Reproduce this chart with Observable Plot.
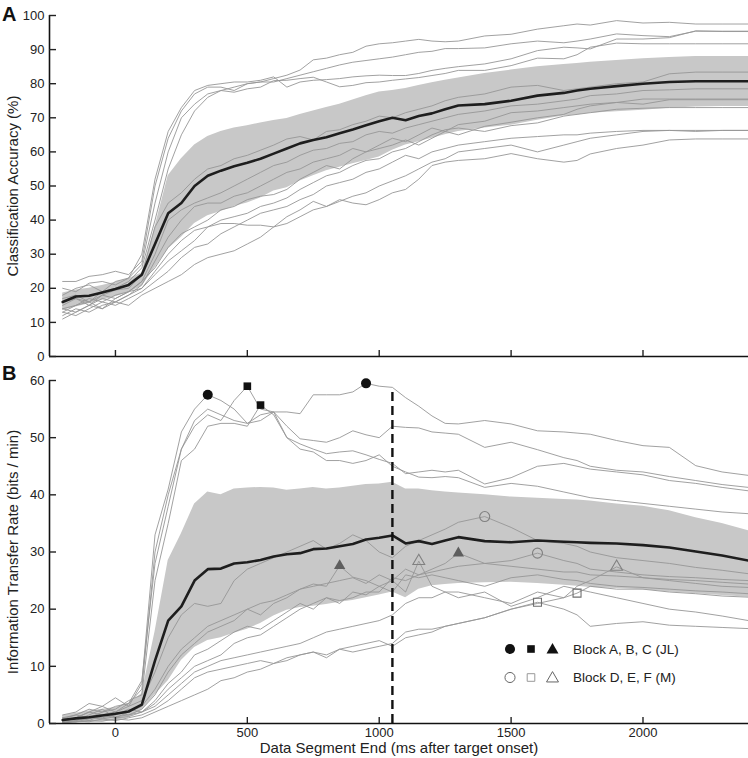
<!DOCTYPE html>
<html><head><meta charset="utf-8">
<script src="https://cdn.jsdelivr.net/npm/d3@7"></script>
<script src="https://cdn.jsdelivr.net/npm/@observablehq/plot@0.6"></script>
<style>
body{margin:0;background:#fff;font-family:"Liberation Sans",Arial,sans-serif;}
#wrap{position:relative;width:748px;height:758px;overflow:hidden;background:#fff;}
#wrap > svg, #wrap > figure{position:absolute;left:0;margin:0;}
.letter{position:absolute;left:2px;font-weight:bold;font-size:20px;line-height:20px;color:#111;}
</style></head><body><div id="wrap"></div>
<script>
// ---------- shared x grid (ms after target onset) ----------
const timesMs = [-200,-150,-100,-50,0,50,100,150,200,250,300,350,400,450,500,550,600,650,700,750,800,850,900,950,1000,1050,1100,1150,1200,1250,1300,1400,1500,1600,1700,1750,1800,1900,2000,2100,2200,2300,2400];
const xDomain = [-250, 2400];
const timeTicks = [0, 500, 1000, 1500, 2000];
const accTicks = [0,10,20,30,40,50,60,70,80,90,100];
const itrTicks = [0,10,20,30,40,50,60];
const accTitle = "Classification Accuracy (%)";
const itrTitle = "Information Transfer Rate (bits / min)";
const timeTitle = "Data Segment End (ms after target onset)";

// ---------- Panel A: classification accuracy (%) ----------
const accMean = [16,17.6,17.8,18.8,19.8,21,24,33,42,45,50,53,54.5,55.8,56.8,58,59.5,61,62.5,63.5,64.3,65.5,66.6,67.8,69,70,69.3,70.5,71.3,72.5,73.6,74,75,76.5,77.3,78,78.5,79.3,80,80.5,80.7,80.7,80.7];
const accHigh = [18.6,19.5,20,20.8,21.8,22.8,24.5,38,53,58,62,64.5,66,67,67.7,68.5,69.2,69.8,71,72,73,74,75.2,76.5,77.6,78,78.6,79.5,80.3,81,81.7,83,84,85,85.6,85.9,86.3,86.8,87.3,87.7,88,88,88];
const accLow = [13.5,14.5,15.5,16.5,17.5,18.8,20.5,26,31.5,35,39,41.3,42.5,44,45,46.5,48.5,49.5,51.5,53,54.5,55.5,56.5,57.5,58.5,60.5,62,63,64,65,66,67,67.8,69.3,70.5,70.8,71.3,71.8,72.2,72.8,73.2,73.3,73.3];

const accT1 = [22,22,23.5,24,25,24,28,50,64,72,77,79,79,78,80,80.5,81.5,82.5,84,87,87.5,88.5,89.2,91,91.7,92,92.5,93,92.5,92.3,92.5,94,94.5,96,97,97.5,97.2,98.5,97.8,98,97.5,97.5,97.5];
const accT2 = [18,20,21,19,22,23,27,45,60,70,74,77,78,79,80,80.5,80.5,81.5,82.5,83.5,84.5,85.5,86.3,86.8,87.3,87.8,88.5,89.2,89.5,90.3,90.3,90.5,91.7,92.5,92,92.5,93.1,94.6,94.1,93.8,95.4,95.4,95.4];
const accT3 = [20,19,21.5,22,21,23,30,52,66,73,78,79.5,80,80.5,80.5,81,82,79,80.5,81,81.2,81.5,82,82.3,82.5,82.4,82.4,83,83.9,84.5,85,85.8,87.3,89.7,90.7,90.5,90.2,93.1,93.1,93.5,95.5,95.3,95.3];
const accT4 = [17,18,16,19,20,22,26,40,55,65,72,76,78,77.5,78.5,79,80.9,81,81.5,81.9,80.5,79.1,79.5,80.3,80.5,81,81.4,81.8,82.4,83,83.9,83.9,85.3,87.5,87.3,88.5,90.7,91.9,91.7,91.7,91.7,91.7,91.7];
const accM1 = [15,17,16,18,19.5,20,24,38,45,48,52,55,56,58,59,60.5,62,63.8,64.5,63.5,66,66.5,68,69,70.5,70,71.5,72.5,73.5,75,76,77,79,79.5,78,78.5,79,80,80.5,82.9,83.4,83.4,83.4];
const accM2 = [14,15,17,16,18,19,22,30,40,43,45,46.5,48,50,52,54,56,57,59,60.5,61,62.5,63,65,66,65.5,67,68,69,70,71,72,73.5,74,75,75.5,76.5,77,78,78.2,78.5,78.5,78.5];
const accM3 = [12,14,13,15,16,18,21,28,35,40,44,45,45,47,48,50,52,54,55,57,58,59,61,60,62,64,63,65,67,66,68,69,71.5,72,73,73.5,74,74.5,75.5,75.5,75.5,75.5,75.5];
const accM4 = [13,15,16,14,17,19,22,26,32,36,38,40,43,44,46,47,47.5,49,52,54,56,55,58,60,61,62,63.5,62,64,66,65,67.5,68.7,70,71,72.5,73.5,74.5,74,75.3,75.3,75.3,75.3];
const accM5 = [14,13,15,17,16,18,20,24,28,31,34,38,40,41,42,44,45,46.5,49,51,53,54,56,57.5,58,60,61,63,65,66.5,67,66,67.7,68.5,70.5,71,71.5,72.5,72.8,73,73,73,73];
const accL1 = [16,17,15,18,17,19,20,25,30,34,37,38,39,39,38.5,38.5,38,39,41,43,44,45.5,47,48,50,51.5,53,55,57,58,60,61,62,60,62,63,64,65,66,66.3,66.3,66.3,66.3];
const accL2 = [11,13,15,14,16,15,18,20,22,24,27,29,30,31,33,35,38,41,43,45.5,44,46,45,44.5,46,48,49,52,56,57,57.5,58,59.5,58,57,57.5,59.4,61,62,63.5,63.8,63.8,63.8];
const accL3 = [13,12,14,16,15,17,19,22,25,29,32,33,36,38,40,42,43,44,46,47.5,50,51,52,54,55,57,59,58,60,61,62,63,64,64.5,65,65,65.5,66,66.3,66.3,66,66.3,66.3];

// ---------- Panel B: information transfer rate (bits / min) ----------
const itrMean = [0.6,0.9,1.1,1.4,1.7,2.1,3.3,11,18,20.5,25,27,27.1,28,28.2,28.6,29.2,29.6,29.8,30.5,30.6,31,31.4,32.2,32.5,32.9,31.5,31.9,31.4,32,32.6,31.9,31.7,32,31.8,31.7,31.6,31.5,31.2,30.8,30.1,29.4,28.5];
const itrHigh = [1.4,1.8,2.2,2.5,2.8,3.5,5.2,16,28.5,33.2,38.4,40.5,40,41,41.2,41.3,41.2,40.8,41,41.3,41,41.2,41.5,41.8,41.9,42.2,41,41,40.7,40.5,40.3,40,39.6,39.4,39.2,39.1,38.9,38.4,38,37.2,36,35,33.7];
const itrLow = [0,0.1,0.2,0.3,0.5,1,2.3,5,7.5,11,13.3,14.5,15,15.8,16.5,17.5,18.8,19.8,20.3,20.5,20.8,21.2,21.5,22,22.5,23,22,23.5,24.1,24.3,24.5,24.6,24.7,24.5,24.2,24,23.8,23.6,23.4,23,22.7,22.4,22.1];

const itrB1 = [1.5,2,3.5,3,4.5,3,7,33,41,51,55,57.5,56.5,55,52.5,54,54.5,50,48.9,48,47.2,47.5,47.7,47,46.2,45.5,43.7,44,44.3,44,44.3,41.9,43,45,45.5,45,44.5,44,43.5,42.5,42,41.3,40.7];
const itrB2 = [0.5,1,2,3,2,3.5,6,30,40,48,52,54,53,56.5,59,55,54.5,52,49.8,49.5,49.2,50,51.2,50.5,50,52,51.8,51.7,51,50.8,50.6,48.3,49.2,47.9,46.5,46,45,44.3,44,43.2,42.5,41.8,41.3];
const itrB3 = [1,1.5,1,2,2.5,4,5,25,35,46,48,52,52.5,52.5,52,55.7,54,50,48,47.5,46,46,45.5,46,47,45,44,43.1,43,43.2,43,41.3,42,41.5,40.5,40,39.5,39,38.5,38,37.5,37,36.7];
const itrB4 = [0.8,1.5,2.5,2,3,3.5,7.5,28,38,48,53,55,54,53,52.5,53,54.5,54.5,54.2,57.5,57.5,57.5,58,59.5,59,58.8,57,55.5,53.8,52.5,52.4,53,52.4,51.2,51,50.8,50.6,49.5,48.6,48.3,45.1,44,43.4];
const itrOc1 = [0.5,1,2,1.5,2,3,4,9,15,19,21,20.5,21,25,27,28,29,30,31,32,30.5,31.5,33,32,30,29,31,32,33,34,35.2,36.2,34.3,32,31.5,31,30,29,28.5,28,27.3,26.8,26.2];
const itrOc2 = [1,0.5,1.5,2.5,1,2,3,6,10,13,15,17,18,19,20,21,21.5,22.5,23.5,24,24.5,25,25.5,24.5,26,25,27,26,26.5,27,27.5,28,28.5,29.8,28.5,28,27,26.5,26,25.7,25.5,25.2,25];
const itrFt1 = [0.3,1,0.5,1.5,2,1.5,2.5,5,9,12,14,16,17,18,20,19,21,22,23.5,24.4,24,27.6,25.6,25,24,23,26,25.5,26,25.5,25,24,25.5,26,25.2,25,24.5,24,23.8,23.5,23.2,23,22.7];
const itrFt2 = [0.5,0.8,1.2,1,1.5,2.5,2,4,7,9,12,13,14.5,16,17,16.5,18,19.5,21,20,22,21.5,22,23,23,25.5,25,26,27,28,29.8,28,27.5,27,26.5,26.5,26,25.8,25.5,25.2,25,24.7,24.4];
const itrOt1 = [0.2,0.5,1,0.8,1.2,1.5,2,3.5,6,8,10,11,12,14,15,15.5,17,18.5,20,21,22,21,23,22.5,24,25,23,28.4,24,23,22,23,20.5,22,24,23.5,23,22,21,20,19.5,18.8,18];
const itrOt2 = [0.5,0.3,0.8,1.5,1,1.2,2,3,5,7,9,10,11,11.5,12,12.5,13,13.5,14,15,16,16.5,17,17.5,18,19,21,22,22,23,23,22,21,23,22,24,25,27.4,25.5,25,24.5,24,23.8];
const itrOs1 = [0.2,0.4,0.3,0.8,0.5,1,1.5,2.5,4,6,8,9,9.5,10,10.5,11,10.5,11.5,12,12.5,12,13,12.5,13,13.5,14,16,16.5,16.5,17,17.5,18.5,20,21.2,20,19,17,17.5,17.8,17.2,17,16.8,16.6];
const itrOs2 = [0.1,0.3,0.5,0.4,0.8,0.6,1,2,3,4,5,6,7.5,8,9,9.5,10.5,11,12,12.5,11.5,13,13.5,14,14.5,13.5,15,15.5,16,17,17.5,18.5,20,21,22,22.8,24,23.5,23.5,23,22.7,22.3,22.1];

// peak-ITR markers: block, time (ms), value
const peakBlock = ["A","A","B","B","C","C","D","D","E","E","F","F"];
const peakTime  = [350, 950, 500, 550, 850, 1300, 1400, 1600, 1600, 1750, 1150, 1900];
const peakItr   = [57.5, 59.5, 59, 55.7, 27.6, 29.8, 36.2, 29.8, 21.2, 22.8, 28.4, 27.4];

const windowEndMs = [1050];
const windowTopItr = 58.6;

const legendLabels = ["Block A, B, C (JL)", "Block D, E, F (M)"];

// ---------- build tables ----------
function longRows(lines) {
  const rows = [];
  lines.forEach((arr, k) => arr.forEach((v, i) => rows.push({t: timesMs[i], v, id: k})));
  return rows;
}
const accRows = longRows([accT1,accT2,accT3,accT4,accM1,accM2,accM3,accM4,accM5,accL1,accL2,accL3]);
const itrRows = longRows([itrB1,itrB2,itrB3,itrB4,itrOc1,itrOc2,itrFt1,itrFt2,itrOt1,itrOt2,itrOs1,itrOs2]);
const accSummary = timesMs.map((t,i) => ({t, m: accMean[i], lo: accLow[i], hi: accHigh[i]}));
const itrSummary = timesMs.map((t,i) => ({t, m: itrMean[i], lo: itrLow[i], hi: itrHigh[i]}));
const peaks = peakTime.map((t,i) => ({t, v: peakItr[i], b: peakBlock[i]}));

const font = {fontFamily: "'Liberation Sans', Arial, sans-serif", fontSize: "13px", color: "#222", background: "transparent", overflow: "visible"};
const GREY = "#969696", BAND = "#c8c8c8", MEAN = "#1e1e1e";
const fmt = d3.format("d");

const wrap = document.getElementById("wrap");

// Panel A
const plotA = Plot.plot({
  width: 748, height: 368,
  marginLeft: 49, marginRight: 0, marginTop: 15, marginBottom: 12,
  style: font,
  x: {domain: xDomain},
  y: {domain: [0, 100]},
  marks: [
    Plot.areaY(accSummary, {x: "t", y1: "lo", y2: "hi", fill: BAND}),
    Plot.line(accRows, {x: "t", y: "v", z: "id", stroke: GREY, strokeWidth: 0.9}),
    Plot.line(accSummary, {x: "t", y: "m", stroke: MEAN, strokeWidth: 2.6}),
    Plot.ruleX([xDomain[0]], {stroke: "#111", strokeWidth: 1.6}),
    Plot.ruleY([0], {stroke: "#111", strokeWidth: 1.6}),
    Plot.axisY({ticks: accTicks, tickSize: -7, tickPadding: 12, strokeWidth: 1.4, tickFormat: fmt, label: null}),
    Plot.axisX({ticks: timeTicks, tickSize: -6, strokeWidth: 1.4, tickFormat: () => "", label: null}),
    Plot.text([accTitle], {text: d => d, frameAnchor: "left", rotate: -90, dx: -36, fontSize: 15, fill: "#222", textAnchor: "middle", lineAnchor: "middle"})
  ]
});
plotA.style.top = "0px";
wrap.appendChild(plotA);

// Panel B
const plotB = Plot.plot({
  width: 748, height: 393,
  marginLeft: 49, marginRight: 0, marginTop: 15, marginBottom: 35,
  style: font,
  x: {domain: xDomain},
  y: {domain: [0, 60]},
  marks: [
    Plot.areaY(itrSummary, {x: "t", y1: "lo", y2: "hi", fill: BAND}),
    Plot.line(itrRows, {x: "t", y: "v", z: "id", stroke: GREY, strokeWidth: 0.9}),
    Plot.line(itrSummary, {x: "t", y: "m", stroke: MEAN, strokeWidth: 2.6}),
    Plot.ruleX(windowEndMs, {y1: 0, y2: windowTopItr, stroke: "#111", strokeWidth: 2.4, strokeDasharray: "9,5"}),
    Plot.dot(peaks.filter(d => d.b === "A"), {x: "t", y: "v", symbol: "circle", r: 5, fill: "#111", stroke: "none"}),
    Plot.dot(peaks.filter(d => d.b === "B"), {x: "t", y: "v", symbol: "square", r: 4.3, fill: "#111", stroke: "none"}),
    Plot.dot(peaks.filter(d => d.b === "C"), {x: "t", y: "v", symbol: "triangle", r: 4.2, fill: "#5e5e5e", stroke: "none"}),
    Plot.dot(peaks.filter(d => d.b === "D"), {x: "t", y: "v", symbol: "circle", r: 5, fill: "none", stroke: "#808080", strokeWidth: 1.1}),
    Plot.dot(peaks.filter(d => d.b === "E"), {x: "t", y: "v", symbol: "square", r: 4.5, fill: "none", stroke: "#707070", strokeWidth: 1.1}),
    Plot.dot(peaks.filter(d => d.b === "F"), {x: "t", y: "v", symbol: "triangle", r: 4.4, fill: "none", stroke: "#808080", strokeWidth: 1.1}),
    Plot.ruleX([xDomain[0]], {stroke: "#111", strokeWidth: 1.6}),
    Plot.ruleY([0], {stroke: "#111", strokeWidth: 1.6}),
    Plot.axisY({ticks: itrTicks, tickSize: -7, tickPadding: 12, strokeWidth: 1.4, tickFormat: fmt, label: null}),
    Plot.axisX({ticks: timeTicks, tickSize: -6, tickPadding: 10, strokeWidth: 1.4, tickFormat: fmt, label: null}),
    Plot.text([itrTitle], {text: d => d, frameAnchor: "left", rotate: -90, dx: -36, fontSize: 15, fill: "#222", textAnchor: "middle", lineAnchor: "middle"}),
    Plot.text([timeTitle], {text: d => d, frameAnchor: "bottom", dy: 25, fontSize: 15, fill: "#222", textAnchor: "middle", lineAnchor: "middle"})
  ]
});
plotB.style.top = "365px";
wrap.appendChild(plotB);

// Panel letters
for (const [txt, top] of [["A", 4], ["B", 363]]) {
  const d = document.createElement("div");
  d.className = "letter"; d.style.top = top + "px"; d.textContent = txt;
  wrap.appendChild(d);
}

// Legend (overlay)
const leg = d3.select(wrap).append("svg")
  .attr("width", 748).attr("height", 758)
  .style("position", "absolute").style("left", 0).style("top", 0).style("pointer-events", "none");
const rowsY = [649, 677.5];
const symX = [510, 531, 552.5];
const shapes = [d3.symbolCircle, d3.symbolSquare, d3.symbolTriangle];
const sizes = [80, 58, 62];
rowsY.forEach((y, r) => {
  shapes.forEach((s, j) => {
    leg.append("path")
      .attr("d", d3.symbol(s, sizes[j])())
      .attr("transform", `translate(${symX[j]},${y + (j === 2 ? 1 : 0)})`)
      .attr("fill", r === 0 ? "#111" : "none")
      .attr("stroke", r === 0 ? "none" : (j === 1 ? "#999" : "#666"))
      .attr("stroke-width", 1);
  });
  leg.append("text")
    .attr("x", 573).attr("y", y).attr("dy", "0.36em")
    .attr("font-family", "'Liberation Sans', Arial, sans-serif")
    .attr("font-size", 13.5).attr("fill", "#222")
    .text(legendLabels[r]);
});
</script></body></html>
